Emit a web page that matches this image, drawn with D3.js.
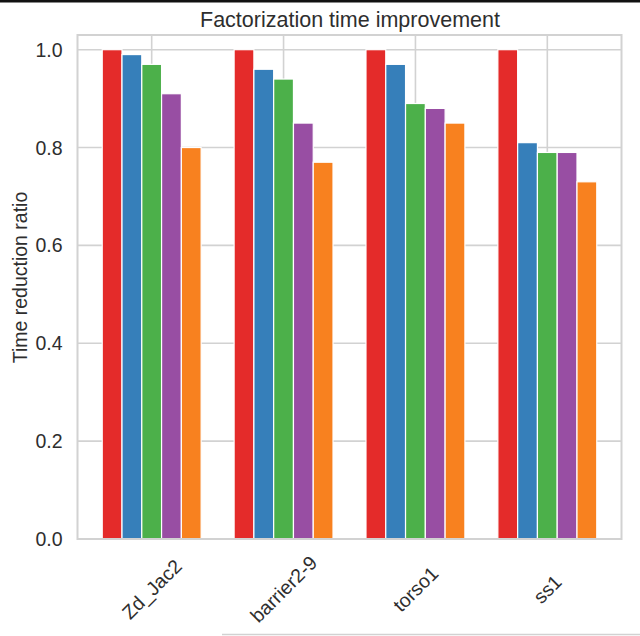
<!DOCTYPE html>
<html>
<head>
<meta charset="utf-8">
<script src="https://cdn.jsdelivr.net/npm/d3@7"></script>
<style>
  html, body { margin: 0; padding: 0; background: #fff; }
  svg { display: block; font-family: "Liberation Sans", Arial, sans-serif; }
</style>
</head>
<body>
<svg id="chart" width="640" height="636"></svg>
<script>
const categories = ["Zd_Jac2", "barrier2-9", "torso1", "ss1"];
const series1 = [1.00, 1.00, 1.00, 1.00];
const series2 = [0.99, 0.96, 0.97, 0.81];
const series3 = [0.97, 0.94, 0.89, 0.79];
const series4 = [0.91, 0.85, 0.88, 0.79];
const series5 = [0.80, 0.77, 0.85, 0.73];
const seriesList = [series1, series2, series3, series4, series5];
const colors = ["#e42b2a", "#367fba", "#4cb04a", "#984ea3", "#f8811f"];
const yTicks = [0.0, 0.2, 0.4, 0.6, 0.8, 1.0];
const title = "Factorization time improvement";
const yLabel = "Time reduction ratio";

(function () {
const svg = d3.select("#chart");
const pL = 77.5, pR = 621.5, pT = 35, pB = 539;
const barW = 0.15;
const x = d3.scaleLinear().domain([-0.5625, 3.5625]).range([pL, pR]);
const y = d3.scaleLinear().domain([0, 1.03]).range([pB, pT]);
const gridColor = "#d2d2d2";
const textColor = "#2e2e2e";

// top artifact band
svg.append("rect").attr("x", 0).attr("y", 0).attr("width", 640).attr("height", 2.5).attr("fill", "#111");

// grid
const g = svg.append("g");
g.selectAll("line.hg").data(yTicks).join("line")
  .attr("x1", pL).attr("x2", pR)
  .attr("y1", d => y(d)).attr("y2", d => y(d))
  .attr("stroke", gridColor).attr("stroke-width", 1.6);
g.selectAll("line.vg").data(categories).join("line")
  .attr("x1", (d, i) => x(i)).attr("x2", (d, i) => x(i))
  .attr("y1", pT).attr("y2", pB)
  .attr("stroke", gridColor).attr("stroke-width", 1.6);

// bars
seriesList.forEach((s, k) => {
  svg.append("g").selectAll("rect").data(s).join("rect")
    .attr("x", (d, i) => x(i + (k - 2.5) * barW))
    .attr("width", x(barW) - x(0))
    .attr("y", d => y(d))
    .attr("height", d => y(0) - y(d))
    .attr("fill", colors[k])
    .attr("stroke", "#fff").attr("stroke-width", 1.2);
});

// frame
svg.append("rect").attr("x", pL).attr("y", pT)
  .attr("width", pR - pL).attr("height", pB - pT)
  .attr("fill", "none").attr("stroke", gridColor).attr("stroke-width", 2);

// y tick labels
svg.append("g").selectAll("text").data(yTicks).join("text")
  .attr("x", 62.5).attr("y", d => y(d))
  .attr("text-anchor", "end").attr("dominant-baseline", "central")
  .attr("font-size", 19.5).attr("fill", textColor)
  .text(d => d.toFixed(1));

// x tick labels
svg.append("g").selectAll("text").data(categories).join("text")
  .attr("transform", (d, i) => `translate(${x(i)},589) rotate(-45)`)
  .attr("text-anchor", "middle").attr("dominant-baseline", "central")
  .attr("font-size", 19.5).attr("fill", textColor)
  .text(d => d);

// y label
svg.append("text")
  .attr("transform", "translate(27,277.5) rotate(-90)")
  .attr("text-anchor", "middle")
  .attr("font-size", 19.5).attr("fill", textColor)
  .text(yLabel);

// title
svg.append("text")
  .attr("x", 350).attr("y", 26.5)
  .attr("text-anchor", "middle")
  .attr("font-size", 21.5).attr("fill", textColor)
  .text(title);

// bottom artifact line
svg.append("line").attr("x1", 222).attr("x2", 640).attr("y1", 634.5).attr("y2", 634.5)
  .attr("stroke", gridColor).attr("stroke-width", 1.5);
})();
</script>
</body>
</html>
